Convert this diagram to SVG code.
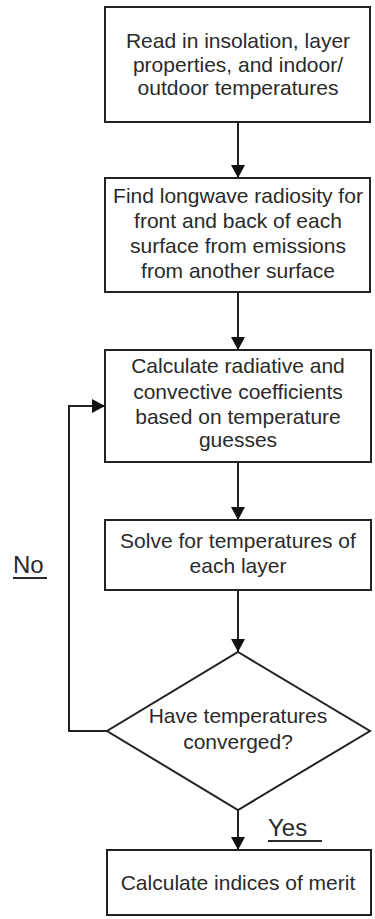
<svg xmlns="http://www.w3.org/2000/svg" width="375" height="919" viewBox="0 0 375 919">
<style>
.box{fill:#fff;stroke:#222;stroke-width:2}
.t{font-family:"Liberation Sans",Arial,sans-serif;font-size:21px;fill:#2a2a2a;text-anchor:middle}
.lbl{font-family:"Liberation Sans",Arial,sans-serif;font-size:24px;fill:#2a2a2a}
.c{fill:none;stroke:#222;stroke-width:2}
.ul{stroke:#2a2a2a;stroke-width:2}
</style>
<defs>
<marker id="ah" markerWidth="14" markerHeight="14" refX="13" refY="7" orient="auto" markerUnits="userSpaceOnUse">
<path d="M0,0 L13,7 L0,14 Z" fill="#111"/>
</marker>
</defs>
<rect width="375" height="919" fill="#fff"/>
<g id="connectors">
<path class="c" d="M238,122 V178" marker-end="url(#ah)"/>
<path class="c" d="M238,292 V350" marker-end="url(#ah)"/>
<path class="c" d="M238,462 V520" marker-end="url(#ah)"/>
<path class="c" d="M238,590 V652" marker-end="url(#ah)"/>
<path class="c" d="M238,810 V850" marker-end="url(#ah)"/>
<path class="c" d="M107,731 H69 V406 H105" marker-end="url(#ah)"/>
</g>
<g id="n1">
<rect class="box" x="105" y="7" width="265" height="115"/>
<text class="t" x="238" y="48">Read in insolation, layer</text>
<text class="t" x="238" y="72">properties, and indoor/</text>
<text class="t" x="238" y="95">outdoor temperatures</text>
</g>
<g id="n2">
<rect class="box" x="105" y="178" width="265" height="114"/>
<text class="t" x="238" y="203">Find longwave radiosity for</text>
<text class="t" x="238" y="228">front and back of each</text>
<text class="t" x="238" y="253">surface from emissions</text>
<text class="t" x="238" y="278">from another surface</text>
</g>
<g id="n3">
<rect class="box" x="105" y="350" width="266" height="112"/>
<text class="t" x="238" y="373">Calculate radiative and</text>
<text class="t" x="238" y="399">convective coefficients</text>
<text class="t" x="238" y="424">based on temperature</text>
<text class="t" x="238" y="447">guesses</text>
</g>
<g id="n4">
<rect class="box" x="105" y="520" width="266" height="70"/>
<text class="t" x="238" y="548">Solve for temperatures of</text>
<text class="t" x="238" y="573">each layer</text>
</g>
<g id="n5">
<polygon class="box" points="238,652 370,731 238,810 107,731"/>
<text class="t" x="238" y="723">Have temperatures</text>
<text class="t" x="238" y="749">converged?</text>
</g>
<g id="n6">
<rect class="box" x="107" y="850" width="264" height="65"/>
<text class="t" x="238" y="890">Calculate indices of merit</text>
</g>
<g id="labels">
<text class="lbl" x="13" y="573">No</text>
<line class="ul" x1="13" y1="578" x2="47" y2="578"/>
<text class="lbl" x="268" y="836">Yes</text>
<line class="ul" x1="268" y1="841" x2="322" y2="841"/>
</g>
</svg>
